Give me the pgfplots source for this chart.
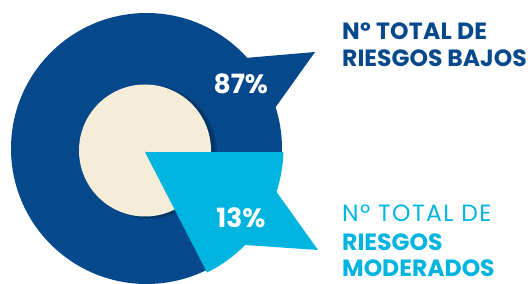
\documentclass[border=0pt]{standalone}
\usepackage{pgfplots}
\pgfplotsset{compat=1.18}
\usepackage{fontspec}
\setmainfont{Poppins}
\definecolor{dblue}{HTML}{05488C}
\definecolor{cyanb}{HTML}{00B4E0}
\definecolor{cream}{HTML}{F5EDD8}
\begin{document}
\begin{tikzpicture}
\begin{axis}[hide axis, scale only axis, width=531bp, height=284bp,
  xmin=0, xmax=531, ymin=0, ymax=284, clip=true, anchor=south west, at={(0,0)}]
% dark ring (87%)
\fill[dblue] (axis cs:146.5,135.5) circle[radius=135.5bp];
% dark flag
\addplot[fill=dblue, draw=none] coordinates {(146.5,135.5) (245,226) (315,232) (275,176)} -- cycle;
% shadow of inner circle
\fill[black, opacity=0.12] (axis cs:150,132) circle[radius=67bp];
\fill[black, opacity=0.15] (axis cs:148.5,132.5) circle[radius=66.5bp];
% inner circle
\fill[cream] (axis cs:145,133.5) circle[radius=66bp];
% light wedge (13%)
\fill[cyanb] (axis cs:145,132) -- (axis cs:283.4,131.9)
  arc[start angle=-1.5, end angle=-18.4, radius=137bp]
  -- (axis cs:318,34) -- (axis cs:245.1,39)
  arc[start angle=-44.4, end angle=-64, radius=138bp] -- cycle;
\end{axis}
% percentages
\node[anchor=base, inner sep=0, text=white, font=\fontsize{26.5bp}{30bp}\selectfont\bfseries] at (240.8bp,190bp) {87\%};
\node[anchor=base, inner sep=0, text=white, font=\fontsize{26.5bp}{30bp}\selectfont\bfseries] at (241bp,56bp) {13\%};
% labels
\node[anchor=base west, inner sep=0, text=dblue, font=\fontsize{23.5bp}{28bp}\selectfont\bfseries\addfontfeature{LetterSpace=1}] at (342bp,244bp) {Nº TOTAL DE};
\node[anchor=base west, inner sep=0, text=dblue, font=\fontsize{23.5bp}{28bp}\selectfont\bfseries] at (342bp,217bp) {RIESGOS BAJOS};
\node[anchor=base west, inner sep=0, text=cyanb, font=\fontsize{23.5bp}{28bp}\selectfont\addfontfeature{LetterSpace=6}] at (342bp,62bp) {Nº TOTAL DE};
\node[anchor=base west, inner sep=0, text=cyanb, font=\fontsize{23.5bp}{28bp}\selectfont\bfseries] at (342bp,33.5bp) {RIESGOS};
\node[anchor=base west, inner sep=0, text=cyanb, font=\fontsize{23.5bp}{28bp}\selectfont\bfseries] at (342bp,7.5bp) {MODERADOS};
\pgfresetboundingbox
\path[use as bounding box] (0,0) rectangle (531bp,284bp);
\end{tikzpicture}
\end{document}
